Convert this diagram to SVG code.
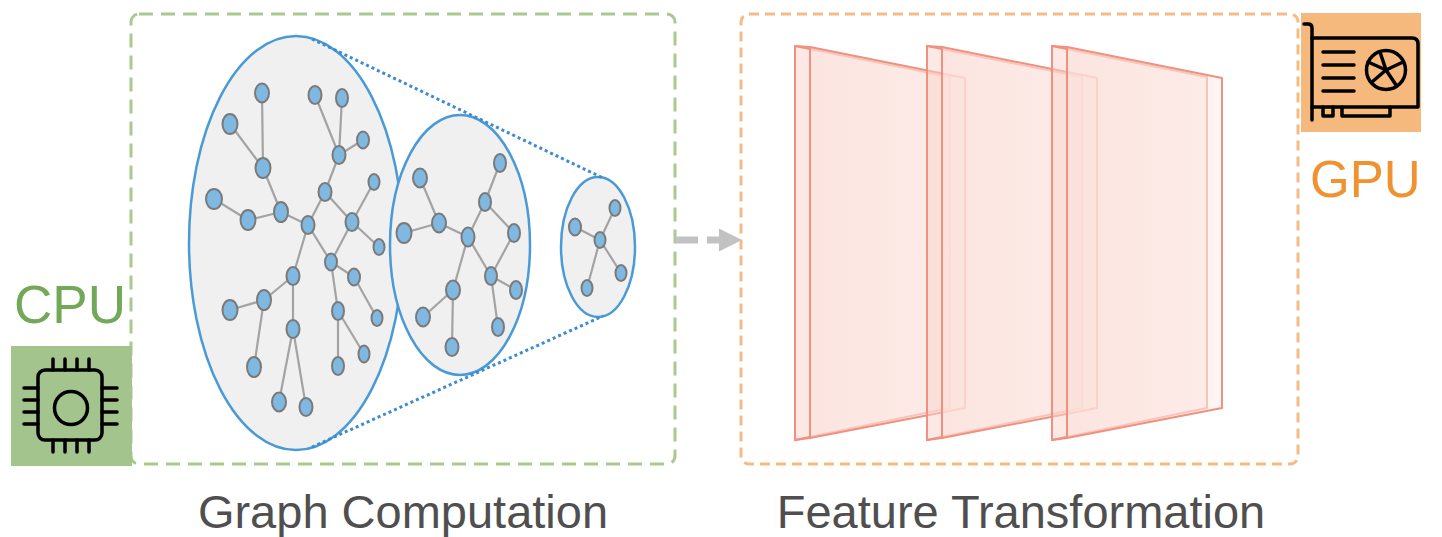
<svg xmlns="http://www.w3.org/2000/svg" width="1442" height="537" viewBox="0 0 1442 537">
  <style>
    .label { font-family: "Liberation Sans", Arial, sans-serif; fill: #4f4f4f; font-size: 47px; }
    .hw { font-family: "Liberation Sans", Arial, sans-serif; font-size: 53px; }
    .blob { fill: #f0f0f0; stroke: #4a9ad6; stroke-width: 2.5; }
    .e { stroke: #a3a3a3; stroke-width: 2.2; fill: none; }
    .n { fill: #7fb9e2; stroke: #7a7a7a; stroke-width: 2; }
    .zoom { stroke: #3d8bd0; stroke-width: 3; stroke-dasharray: 3 3; fill: none; }
    .face { fill: url(#sheet); stroke: #f0907f; stroke-width: 2; stroke-linejoin: round; }
    .side { fill: #f9d3cb; fill-opacity: 0.5; stroke: #f0907f; stroke-width: 2; }
    .icon { fill: none; stroke: #000; stroke-width: 3.5; stroke-linecap: round; stroke-linejoin: round; }
  </style>
  <defs>
    <filter id="soft" x="-5%" y="-5%" width="110%" height="110%">
      <feGaussianBlur stdDeviation="0.6"/>
    </filter>
    <linearGradient id="sheet" x1="0" y1="0" x2="1" y2="0">
      <stop offset="0" stop-color="#fce2dc" stop-opacity="0.65"/>
      <stop offset="1" stop-color="#fdeeea" stop-opacity="0.55"/>
    </linearGradient>
    <marker id="head" viewBox="0 0 10 10" refX="0" refY="5" markerWidth="3.3" markerHeight="3.4" orient="auto" markerUnits="strokeWidth">
      <path d="M0,0 L10,5 L0,10 Z" fill="#c2c2c2"/>
    </marker>
    <g id="slab">
      <polygon class="side" points="795,46 950,77 950,408 795,440"/>
      <polygon class="face" points="810,47 965,78 965,408 810,438"/>
      <line x1="795" y1="46" x2="810" y2="47" stroke="#f0907f" stroke-width="2"/>
      <line x1="795" y1="440" x2="810" y2="438" stroke="#f0907f" stroke-width="2"/>
    </g>
  </defs>

  <!-- dashed frames -->
  <g id="graph-frame">
    <rect x="131" y="14" width="544" height="450" rx="8" fill="none" stroke="#a9c98f" stroke-width="3" stroke-dasharray="14 8"/>
  </g>
  <g id="feature-frame">
    <rect x="741" y="14" width="557" height="450" rx="8" fill="none" stroke="#f5bb85" stroke-width="3" stroke-dasharray="10 6"/>
  </g>

  <!-- graph computation: three shrinking graphs -->
  <g id="graph-large" filter="url(#soft)">
    <ellipse class="blob" cx="296" cy="243" rx="107" ry="207"/>
    <g class="e">
      <line x1="262" y1="93" x2="263" y2="168"/>
      <line x1="230" y1="124" x2="263" y2="168"/>
      <line x1="263" y1="168" x2="281" y2="212"/>
      <line x1="214" y1="199" x2="248" y2="220"/>
      <line x1="248" y1="220" x2="281" y2="212"/>
      <line x1="281" y1="212" x2="308" y2="225"/>
      <line x1="315" y1="95" x2="339" y2="155"/>
      <line x1="342" y1="98" x2="339" y2="155"/>
      <line x1="363" y1="140" x2="339" y2="155"/>
      <line x1="339" y1="155" x2="325" y2="192"/>
      <line x1="325" y1="192" x2="308" y2="225"/>
      <line x1="325" y1="192" x2="352" y2="222"/>
      <line x1="374" y1="182" x2="352" y2="222"/>
      <line x1="352" y1="222" x2="379" y2="247"/>
      <line x1="308" y1="225" x2="293" y2="276"/>
      <line x1="308" y1="225" x2="331" y2="262"/>
      <line x1="352" y1="222" x2="331" y2="262"/>
      <line x1="331" y1="262" x2="354" y2="277"/>
      <line x1="354" y1="277" x2="377" y2="318"/>
      <line x1="331" y1="262" x2="338" y2="311"/>
      <line x1="338" y1="311" x2="364" y2="354"/>
      <line x1="338" y1="311" x2="338" y2="366"/>
      <line x1="293" y1="276" x2="264" y2="300"/>
      <line x1="264" y1="300" x2="230" y2="310"/>
      <line x1="264" y1="300" x2="254" y2="367"/>
      <line x1="293" y1="276" x2="293" y2="329"/>
      <line x1="293" y1="329" x2="279" y2="402"/>
      <line x1="293" y1="329" x2="306" y2="407"/>
    </g>
    <g class="n">
      <ellipse cx="262" cy="93" rx="7" ry="9.5"/>
      <ellipse cx="230" cy="124" rx="7.5" ry="10"/>
      <ellipse cx="263" cy="168" rx="7.5" ry="10"/>
      <ellipse cx="315" cy="95" rx="6.5" ry="9"/>
      <ellipse cx="342" cy="98" rx="6" ry="9"/>
      <ellipse cx="363" cy="140" rx="6" ry="8.5"/>
      <ellipse cx="339" cy="155" rx="6.5" ry="9"/>
      <ellipse cx="374" cy="182" rx="5.5" ry="8"/>
      <ellipse cx="325" cy="192" rx="6.5" ry="9"/>
      <ellipse cx="214" cy="199" rx="8" ry="10"/>
      <ellipse cx="248" cy="220" rx="7.5" ry="10"/>
      <ellipse cx="281" cy="212" rx="7" ry="10"/>
      <ellipse cx="308" cy="225" rx="6.5" ry="9"/>
      <ellipse cx="352" cy="222" rx="6.5" ry="9"/>
      <ellipse cx="379" cy="247" rx="5.5" ry="8"/>
      <ellipse cx="331" cy="262" rx="6" ry="8.5"/>
      <ellipse cx="354" cy="277" rx="6" ry="8.5"/>
      <ellipse cx="293" cy="276" rx="6.5" ry="9"/>
      <ellipse cx="264" cy="300" rx="7" ry="10"/>
      <ellipse cx="230" cy="310" rx="7.5" ry="10"/>
      <ellipse cx="377" cy="318" rx="5.5" ry="8"/>
      <ellipse cx="338" cy="311" rx="6" ry="9"/>
      <ellipse cx="293" cy="329" rx="6.5" ry="9"/>
      <ellipse cx="364" cy="354" rx="5.5" ry="8.5"/>
      <ellipse cx="338" cy="366" rx="6" ry="9"/>
      <ellipse cx="254" cy="367" rx="7" ry="10"/>
      <ellipse cx="279" cy="402" rx="7" ry="9.5"/>
      <ellipse cx="306" cy="407" rx="6.5" ry="9"/>
    </g>
  </g>

  <g id="graph-medium" filter="url(#soft)">
    <ellipse class="blob" cx="460" cy="245" rx="70" ry="130"/>
    <g class="e">
      <line x1="420" y1="178" x2="439" y2="223"/>
      <line x1="404" y1="233" x2="439" y2="223"/>
      <line x1="439" y1="223" x2="468" y2="237"/>
      <line x1="468" y1="237" x2="485" y2="202"/>
      <line x1="485" y1="202" x2="500" y2="163"/>
      <line x1="485" y1="202" x2="514" y2="233"/>
      <line x1="514" y1="233" x2="491" y2="276"/>
      <line x1="468" y1="237" x2="491" y2="276"/>
      <line x1="491" y1="276" x2="516" y2="290"/>
      <line x1="491" y1="276" x2="498" y2="327"/>
      <line x1="468" y1="237" x2="453" y2="290"/>
      <line x1="453" y1="290" x2="423" y2="317"/>
      <line x1="453" y1="290" x2="452" y2="347"/>
    </g>
    <g class="n">
      <ellipse cx="420" cy="178" rx="7" ry="9.5"/>
      <ellipse cx="439" cy="223" rx="7" ry="9.5"/>
      <ellipse cx="404" cy="233" rx="7.5" ry="10"/>
      <ellipse cx="468" cy="237" rx="6.5" ry="9.5"/>
      <ellipse cx="485" cy="202" rx="6" ry="9"/>
      <ellipse cx="500" cy="163" rx="6" ry="9"/>
      <ellipse cx="514" cy="233" rx="6" ry="9"/>
      <ellipse cx="491" cy="276" rx="6" ry="9"/>
      <ellipse cx="516" cy="290" rx="6" ry="9"/>
      <ellipse cx="498" cy="327" rx="6" ry="9"/>
      <ellipse cx="453" cy="290" rx="7" ry="9.5"/>
      <ellipse cx="423" cy="317" rx="7" ry="9.5"/>
      <ellipse cx="452" cy="347" rx="6.5" ry="9"/>
    </g>
  </g>

  <g id="graph-small" filter="url(#soft)">
    <ellipse class="blob" cx="598" cy="247" rx="37" ry="70"/>
    <g class="e">
      <line x1="575" y1="227" x2="600" y2="240"/>
      <line x1="615" y1="208" x2="600" y2="240"/>
      <line x1="600" y1="240" x2="621" y2="273"/>
      <line x1="600" y1="240" x2="587" y2="288"/>
    </g>
    <g class="n">
      <ellipse cx="575" cy="227" rx="6" ry="8.5"/>
      <ellipse cx="615" cy="208" rx="5.5" ry="8"/>
      <ellipse cx="600" cy="240" rx="5.5" ry="8"/>
      <ellipse cx="621" cy="273" rx="5.5" ry="8"/>
      <ellipse cx="587" cy="288" rx="5.5" ry="8"/>
    </g>
  </g>

  <!-- zoom guides -->
  <g id="zoom-guides">
    <line class="zoom" x1="312" y1="39" x2="603" y2="178"/>
    <line class="zoom" x1="312" y1="447" x2="603" y2="316"/>
  </g>

  <!-- feature transformation: stacked layers -->
  <g id="layers">
    <use href="#slab"/>
    <use href="#slab" transform="translate(132,0)"/>
    <use href="#slab" transform="translate(257,0)"/>
  </g>

  <!-- connectors -->
  <g id="connectors">
    <line x1="675" y1="240" x2="719" y2="240" stroke="#c2c2c2" stroke-width="7" stroke-dasharray="23 9" marker-end="url(#head)"/>
  </g>

  <!-- CPU badge -->
  <g id="cpu">
    <text class="hw" x="14" y="323" fill="#72a857">CPU</text>
    <rect x="11" y="346" width="121" height="120" fill="#a3c58d"/>
    <g class="icon">
      <rect x="38" y="370" width="64" height="70" rx="7"/>
      <circle cx="71" cy="408" r="16.5"/>
      <path d="M53,359 V370 M65,359 V370 M77,359 V370 M89,359 V370"/>
      <path d="M53,440 V452 M65,440 V452 M77,440 V452 M89,440 V452"/>
      <path d="M24,388 H38 M24,400 H38 M24,412 H38 M24,424 H38"/>
      <path d="M102,388 H117 M102,400 H117 M102,412 H117 M102,424 H117"/>
    </g>
  </g>

  <!-- GPU badge -->
  <g id="gpu">
    <rect x="1301" y="13" width="120" height="119" fill="#f5b97e"/>
    <g class="icon">
      <path d="M1304,24 H1308 Q1312,24 1312,28 V120"/>
      <path d="M1312,38 H1412 Q1418,38 1418,44 V107 H1312"/>
      <path d="M1323,52 H1354 M1323,65 H1354 M1323,78 H1354 M1323,91 H1354"/>
      <circle cx="1386" cy="70" r="19.5"/>
      <path d="M1386,70 L1380,52 M1386,70 L1403,62 M1386,70 L1396,85 M1386,70 L1372,82 M1386,70 L1368,62"/>
      <path d="M1323,107 V116 H1333 V107 M1342,107 V116 H1390 V107"/>
    </g>
    <text class="hw" x="1310" y="197" fill="#f0922f" style="font-size:51px">GPU</text>
  </g>

  <!-- captions -->
  <g id="captions">
    <text class="label" x="403" y="528" text-anchor="middle">Graph Computation</text>
    <text class="label" x="1021" y="528" text-anchor="middle">Feature Transformation</text>
  </g>
</svg>
